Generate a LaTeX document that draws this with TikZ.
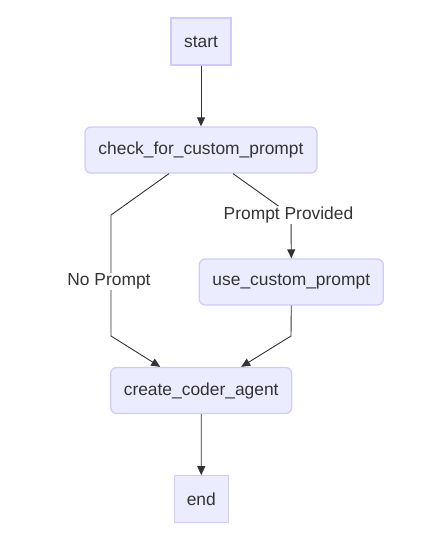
\documentclass[tikz,border=0pt]{standalone}
\usepackage{fontspec}
\setmainfont{Liberation Sans}
\usetikzlibrary{arrows.meta}
\definecolor{nodefill}{HTML}{ECECFF}
\definecolor{nodeline}{HTML}{CFCBFC}
\definecolor{ink}{HTML}{333333}
\tikzset{
  box/.style={draw=nodeline, fill=nodefill, line width=1.3pt, text=ink,
    font=\fontsize{17.4}{20}\selectfont, inner sep=0pt, anchor=center},
  sqbox/.style={box},
  rbox/.style={box, rounded corners=6pt},
  arr/.style={draw=ink, line width=0.9pt, -{Triangle[length=9pt,width=8pt]}},
  elabel/.style={fill=white, text=ink, font=\fontsize{17.4}{20}\selectfont, inner sep=1pt}
}
\begin{document}
\begin{tikzpicture}[x=1pt,y=-1pt]
\useasboundingbox (0,0) rectangle (447,544);
\node[sqbox, minimum width=60pt, minimum height=47pt] (start) at (201,41.5) {\raisebox{-1pt}{start}};
\node[rbox, minimum width=232pt, minimum height=46pt] (check) at (201,150) {\raisebox{-1pt}{check\_for\_custom\_prompt}};
\node[rbox, minimum width=184pt, minimum height=46pt] (use) at (291.3,282) {\raisebox{-1pt}{use\_custom\_prompt}};
\node[rbox, minimum width=181pt, minimum height=46pt] (create) at (201.2,390.5) {\raisebox{-1pt}{create\_coder\_agent}};
\node[sqbox, minimum width=54pt, minimum height=47pt] (end) at (201.3,499.3) {\raisebox{-1pt}{end}};

\coordinate (nl1) at (111,215);
\coordinate (nl2) at (111,336);
\coordinate (pp1) at (291,215);
\coordinate (uc1) at (291,336);

\draw[arr] (start) -- (check);
\draw[arr] (create) -- (end);

\draw[arr] ([xshift=-32pt]check.south) -- (nl1) -- (nl2) -- ([xshift=-41pt]create.north);
\node[elabel] (lno) at (109,281.5) {No Prompt};

\draw[arr] ([xshift=32pt]check.south) -- (pp1) -- (use.north);
\node[elabel] (lpp) at (288.5,215) {Prompt Provided};

\draw[arr] (use.south) -- (uc1) -- ([xshift=40pt]create.north);
\end{tikzpicture}
\end{document}
